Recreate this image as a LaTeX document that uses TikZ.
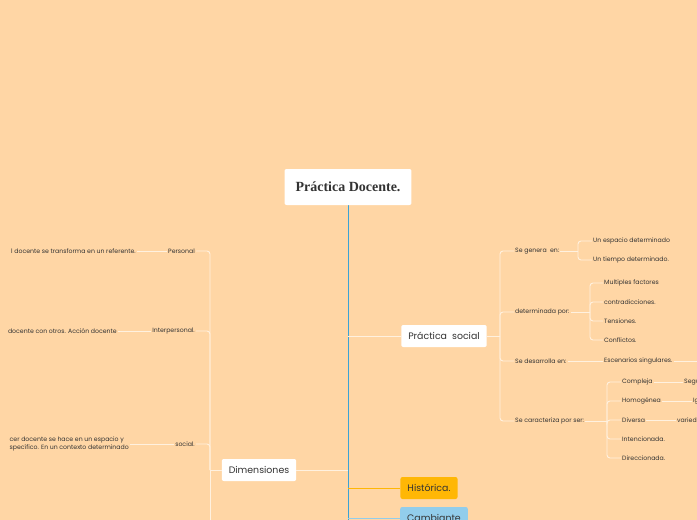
\documentclass[tikz,border=0pt]{standalone}
\usepackage{fontspec}
\setmainfont{Poppins}
\newfontfamily\titlefont{Liberation Serif}
\usetikzlibrary{positioning}
\definecolor{bgc}{HTML}{FFD6A5}
\definecolor{linkc}{HTML}{FFF1DF}
\definecolor{trunkc}{HTML}{3BA3D6}
\definecolor{histc}{HTML}{FFB705}
\definecolor{cambc}{HTML}{92CDEB}
\definecolor{txtc}{HTML}{333333}
\tikzset{
  box/.style={fill=white, rounded corners=2pt, text=txtc, font=\fontsize{9.4}{11}\selectfont, inner xsep=7pt, minimum height=22pt},
  leaf/.style={text=txtc, font=\fontsize{6.2}{8}\selectfont, inner sep=1pt},
  link/.style={draw=linkc, line width=0.9pt, rounded corners=3pt}
}
\begin{document}
\begin{tikzpicture}[x=1pt,y=-1pt]
  \fill[bgc] (0,0) rectangle (697,520);
  \clip (0,0) rectangle (697,520);
  \useasboundingbox (0,0) rectangle (697,520);
  % main trunk
  \draw[trunkc, line width=0.9pt] (348,205) -- (348,525);
  \node[box, minimum height=36pt, inner xsep=11pt, font=\titlefont\bfseries\fontsize{14}{16}\selectfont] (root) at (348,187) {Práctica Docente.};
  \node[box] (social) at (444,336) {Práctica~~social};
  \node[box] (dim) at (259,470) {Dimensiones};
  \node[box, fill=histc] (hist) at (429,488) {Histórica.};
  \node[box, fill=cambc] (camb) at (434,518) {Cambiante};
  \draw[link] (348,336) -- (social.west);
  \draw[link] (348,470) -- (dim.east);
  \draw[histc, line width=0.9pt] (348,488) -- (hist.west);
  \draw[cambc, line width=0.9pt] (348,518) -- (camb.west);
  % practica social
  \node[leaf, anchor=west] (gen) at (514,251) {Se genera ~en:};
  \node[leaf, anchor=west] (detp) at (514,312) {determinada por:};
  \node[leaf, anchor=west] (desa) at (514,361) {Se desarrolla en:};
  \node[leaf, anchor=west] (cara) at (514,421) {Se caracteriza por ser:};
  \draw[link] (social.east) -- (500,336);
  \foreach \n in {gen,detp,desa,cara} \draw[link] (500,336) |- (\n.west);
  \node[leaf, anchor=west] (esp) at (592,241) {Un espacio determinado};
  \node[leaf, anchor=west] (tie) at (592,260) {Un tiempo determinado.};
  \draw[link] (gen.east) -- (578,251);
  \foreach \n in {esp,tie} \draw[link] (578,251) |- (\n.west);
  \node[leaf, anchor=west] (mul) at (603,283) {Multiples factores};
  \node[leaf, anchor=west] (con) at (603,302) {contradicciones.};
  \node[leaf, anchor=west] (ten) at (603,321) {Tensiones.};
  \node[leaf, anchor=west] (cfl) at (603,340) {Conflictos.};
  \draw[link] (detp.east) -- (590,312);
  \foreach \n in {mul,con,ten,cfl} \draw[link] (590,312) |- (\n.west);
  \node[leaf, anchor=west] (esc) at (603,361) {Escenarios singulares.};
  \coordinate (escend) at (700,361);
  \draw[link] (desa.east) -- (esc.west);
  \draw[link] (esc.east) -- (escend);
  \node[leaf, anchor=west] (comp) at (621,382) {Compleja};
  \node[leaf, anchor=west] (homo) at (621,401) {Homogénea};
  \node[leaf, anchor=west] (dive) at (621,420) {Diversa};
  \node[leaf, anchor=west] (inte) at (621,439) {Intencionada.};
  \node[leaf, anchor=west] (dire) at (621,458) {Direccionada.};
  \draw[link] (cara.east) -- (607,421);
  \foreach \n in {comp,homo,dive,inte,dire} \draw[link] (607,421) |- (\n.west);
  \node[leaf, anchor=west] (segu) at (683,382) {Segu};
  \node[leaf, anchor=west] (igu) at (692,401) {Ig};
  \node[leaf, anchor=west] (vari) at (676,420) {varied};
  \draw[link] (comp) -- (segu);
  \draw[link] (homo) -- (igu);
  \draw[link] (dive) -- (vari);
  % dimensiones
  \node[leaf, anchor=east] (pers) at (196,251) {Personal};
  \node[leaf, anchor=east] (inter) at (196,331) {Interpersonal.};
  \node[leaf, anchor=east] (soc) at (196,444) {social.};
  \draw[link] (dim.west) -- (210,470);
  \draw[link] (210,525) -- (210,470);
  \foreach \n in {pers,inter,soc} \draw[link] (210,470) |- (\n.east);
  \node[leaf, anchor=east] (persd) at (137,251) {l docente se transforma en un referente.};
  \node[leaf, anchor=east] (interd) at (118,331) {docente con otros. Acción docente};
  \node[leaf, anchor=east, align=left] (socd) at (130,444) {cer docente se hace en un espacio y\\specífico. En un contexto determinado};
  \draw[link] (pers) -- (persd);
  \draw[link] (inter) -- (interd);
  \draw[link] (soc) -- (socd.east |- soc);
\end{tikzpicture}
\end{document}
